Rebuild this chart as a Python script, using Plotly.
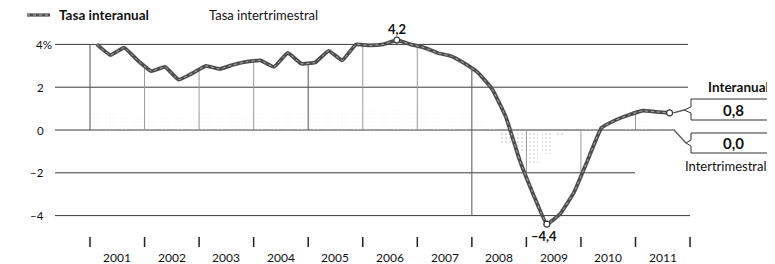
import numpy as np
import plotly.graph_objects as go

# ---------------- data ----------------
years = list(range(2001, 2012))
year_labels = [str(y) for y in years]
# quarterly, 2001T1 .. 2011T3
interanual = [4.0, 3.5, 3.85, 3.25, 2.75, 2.95, 2.35, 2.65, 3.0, 2.85, 3.05, 3.2,
              3.25, 2.95, 3.6, 3.1, 3.15, 3.7, 3.25, 4.0, 3.95, 4.0, 4.2, 4.0,
              3.85, 3.6, 3.45, 3.1, 2.65, 1.9, 0.6, -1.4, -3.0, -4.4, -3.9, -2.9,
              -1.4, 0.1, 0.45, 0.7, 0.9, 0.85, 0.8]
intertrimestral = [0.9, 0.8, 0.7, 0.6, 0.5, 0.7, 0.6, 0.6, 0.9, 0.7, 0.8, 0.7,
                   0.8, 0.6, 0.8, 0.9, 0.9, 0.9, 0.9, 0.9, 1.0, 0.9, 1.0, 0.9,
                   1.0, 0.8, 0.7, 0.8, 0.4, 0.1, -0.6, -1.0, -1.6, -1.1, -0.3, -0.1,
                   0.1, 0.2, 0.0, 0.2, 0.4, 0.2, 0.0]
y_ticks = [4, 2, 0, -2, -4]
y_tick_labels = ["4%", "2", "0", "–2", "–4"]

# ---------------- layout helpers (page pixel -> data) ----------------
# the page body has an 8px margin, so the figure starts at page pixel (8, 8)
OFF = 8
W, H = 775 - OFF, 264 - OFF
def X(px):
    return 2001 + (px - 90) / 54.55
def Y(py):
    return (130 - py) / 21.4

xq = [2001 + (i + 0.5) / 4 for i in range(len(interanual))]

fig = go.Figure()

# intertrimestral: faint dotted bars (transparent background)
fgcols = ["#8f8f8f" if v < 0 else "#ececec" for v in intertrimestral]
fig.add_trace(go.Bar(
    x=xq, y=intertrimestral, width=0.17,
    marker=dict(color="rgba(0,0,0,0)", line=dict(width=0),
                pattern=dict(shape=".", fgcolor=fgcols, bgcolor="rgba(0,0,0,0)",
                             size=4, solidity=0.15)),
    showlegend=False, hoverinfo="skip"))

shapes = []
ann = []

# horizontal gridlines with their individual right ends
grid_right = {4: 688, 2: 688, 0: 675, -2: 635, -4: 690}
for v in y_ticks:
    shapes.append(dict(type="line", xref="x", yref="y", x0=X(55), x1=X(grid_right[v]),
                       y0=v, y1=v, line=dict(color="#3a3a3a", width=1), layer="below"))

# year-boundary drop lines (from 0 to the series line)
dark_bounds = {2001, 2005, 2008}
for yb in range(2001, 2012):
    val = float(np.interp(yb, xq, interanual))
    y0 = Y(216) if yb == 2008 else 0
    col = "#555" if yb in dark_bounds else "#9a9a9a"
    shapes.append(dict(type="line", xref="x", yref="y", x0=yb, x1=yb, y0=y0, y1=val,
                       line=dict(color=col, width=1), layer="below"))

# bottom tick marks at year boundaries
for yb in range(2001, 2013):
    shapes.append(dict(type="line", xref="x", yref="y", x0=yb, x1=yb, y0=Y(237), y1=Y(247),
                       line=dict(color="#222", width=1.5)))

# interanual line (halftone look)
fig.add_trace(go.Scatter(x=xq, y=interanual, mode="lines",
                         line=dict(color="#4d4d4d", width=3.8, shape="spline", smoothing=0.3),
                         showlegend=False, hoverinfo="skip"))
fig.add_trace(go.Scatter(x=xq, y=interanual, mode="lines",
                         line=dict(color="rgba(255,255,255,0.55)", width=1, dash="dot",
                                   shape="spline", smoothing=0.3),
                         showlegend=False, hoverinfo="skip"))

imax = int(np.argmax(interanual))
imin = int(np.argmin(interanual))
ilast = len(interanual) - 1
fig.add_trace(go.Scatter(x=[xq[imax], xq[imin], xq[ilast]],
                         y=[interanual[imax], interanual[imin], interanual[ilast]],
                         mode="markers",
                         marker=dict(symbol="circle", size=6, color="white",
                                     line=dict(color="#333", width=1.2)),
                         showlegend=False, hoverinfo="skip"))

FONT = "Lato, 'Noto Sans', sans-serif"
def fmt(v):
    s = f"{abs(v):.1f}".replace(".", ",")
    return ("–" if v < 0 else "") + s

ann.append(dict(x=xq[imax], y=Y(29), text=f"<b>{fmt(interanual[imax])}</b>", showarrow=False,
                font=dict(family=FONT, size=13, color="#111"), xanchor="center", yanchor="middle"))
ann.append(dict(x=xq[imin] - 0.05, y=Y(236), text=f"<b>{fmt(interanual[imin])}</b>", showarrow=False,
                font=dict(family=FONT, size=13, color="#111"), xanchor="center", yanchor="middle"))

# y tick labels
for v, t in zip(y_ticks, y_tick_labels):
    if t.endswith("%"):
        ann.append(dict(x=X(34), y=v, text=t, showarrow=False, xanchor="left", yanchor="middle",
                        font=dict(family=FONT, size=11.5, color="#111")))
    else:
        ann.append(dict(x=X(46), y=v, text=t, showarrow=False, xanchor="right", yanchor="middle",
                        font=dict(family=FONT, size=11.5, color="#111")))

# year labels
for yr, lab in zip(years, year_labels):
    ann.append(dict(x=yr + 0.5, y=Y(257), text=lab, showarrow=False, xanchor="center",
                    yanchor="middle", font=dict(family=FONT, size=12, color="#111")))

# legend
shapes.append(dict(type="line", xref="x", yref="y", x0=X(27), x1=X(50), y0=Y(15), y1=Y(15),
                   line=dict(color="#4d4d4d", width=3.2)))
shapes.append(dict(type="line", xref="x", yref="y", x0=X(27), x1=X(50), y0=Y(15), y1=Y(15),
                   line=dict(color="rgba(255,255,255,0.6)", width=1, dash="dot")))
ann.append(dict(x=X(57), y=Y(15), text="<b>Tasa interanual</b>", showarrow=False, xanchor="left",
                yanchor="middle", font=dict(family=FONT, size=13.5, color="#111")))
ann.append(dict(x=X(207), y=Y(15), text="Tasa intertrimestral", showarrow=False, xanchor="left",
                yanchor="middle", font=dict(family=FONT, size=13, color="#111")))

# right side labels and callout boxes
ann.append(dict(x=X(771), y=Y(87), text="<b>Interanual</b>", showarrow=False, xanchor="right",
                yanchor="middle", font=dict(family=FONT, size=13.5, color="#111")))
ann.append(dict(x=X(683), y=Y(166), text="Intertrimestral", showarrow=False, xanchor="left",
                yanchor="middle", font=dict(family=FONT, size=13, color="#111")))

def box_path(x0, x1, yt, yb, yp, xp):
    pts = [(x0, yt), (x1, yt), (x1, yb), (x0, yb), (x0, yp + 3), (xp, yp), (x0, yp - 3)]
    return "M " + " L ".join(f"{X(a)},{Y(b)}" for a, b in pts) + " Z"

shapes.append(dict(type="path", xref="x", yref="y", path=box_path(691, 773, 99, 120, 110, 684),
                   line=dict(color="#333", width=1), fillcolor="white"))
shapes.append(dict(type="line", xref="x", yref="y", x0=xq[ilast] + 0.07, x1=X(684),
                   y0=interanual[ilast], y1=Y(110), line=dict(color="#555", width=1.3)))
ann.append(dict(x=X(733), y=Y(109.5), text=f"<b>{fmt(interanual[ilast])}</b>", showarrow=False,
                xanchor="center", yanchor="middle", font=dict(family=FONT, size=15, color="#111")))

shapes.append(dict(type="path", xref="x", yref="y", path=box_path(691, 773, 133, 153, 143, 686),
                   line=dict(color="#333", width=1), fillcolor="white"))
shapes.append(dict(type="line", xref="x", yref="y", x0=X(674), x1=X(686),
                   y0=0, y1=Y(143), line=dict(color="#555", width=1.3)))
ann.append(dict(x=X(733), y=Y(143), text=f"<b>{fmt(intertrimestral[-1])}</b>", showarrow=False,
                xanchor="center", yanchor="middle", font=dict(family=FONT, size=15, color="#111")))

fig.update_layout(
    width=W, height=H,
    margin=dict(l=0, r=0, t=0, b=0),
    paper_bgcolor="white", plot_bgcolor="white",
    xaxis=dict(range=[X(OFF), X(775)], visible=False, fixedrange=True),
    yaxis=dict(range=[Y(264), Y(OFF)], visible=False, fixedrange=True),
    shapes=shapes, annotations=ann, bargap=0,
)

fig.write_html("out.html")
